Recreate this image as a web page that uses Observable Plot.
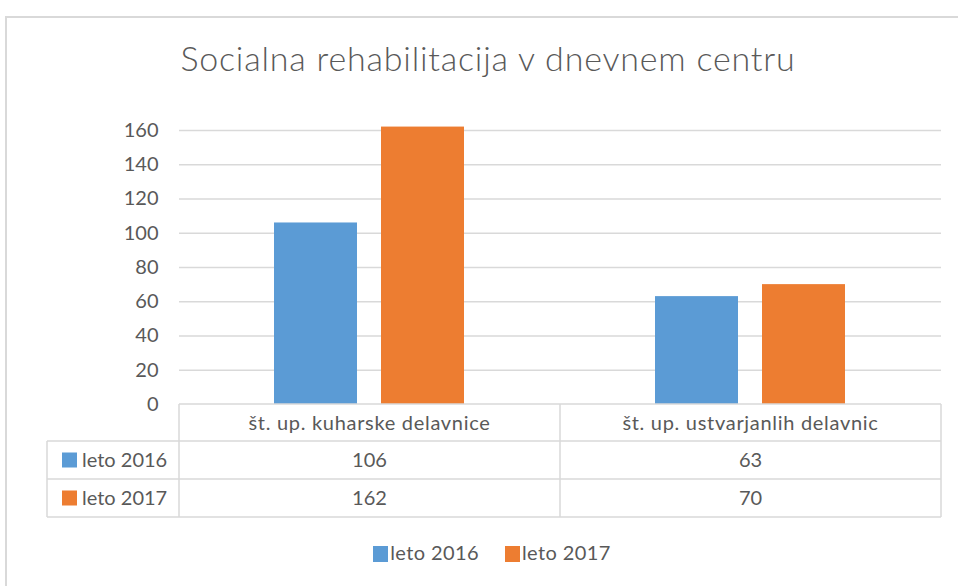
<!DOCTYPE html>
<html><head><meta charset="utf-8">
<script src="https://cdn.jsdelivr.net/npm/d3@7"></script>
<script src="https://cdn.jsdelivr.net/npm/@observablehq/plot@0.6"></script>
<style>
body{margin:0;background:#fff;font-family:Lato,"Open Sans",sans-serif;}
#wrap{position:relative;width:958px;height:586px;overflow:hidden;}
#frame{position:absolute;left:5px;top:16px;width:1000px;height:700px;border-top:2px solid #d9d9d9;border-left:2px solid #d9d9d9;}
#title{position:absolute;left:0;width:976px;top:37px;text-align:center;font-size:34px;letter-spacing:0.8px;color:#595959;font-weight:300;}
#chart{position:absolute;left:0;top:0;}
#legend{position:absolute;top:540px;left:0;width:984px;text-align:center;font-size:20px;letter-spacing:0.4px;color:#595959;line-height:24px;}
#legend span.k{display:inline-block;width:15px;height:16px;vertical-align:-2px;margin-right:2px;}
#legend span.i + span.i{margin-left:26px;}
</style></head>
<body><div id="wrap"><div id="frame"></div><div id="title">Socialna rehabilitacija v dnevnem centru</div><div id="chart"></div>
<div id="legend"></div></div>
<script>
const categories = ["št. up. kuharske delavnice", "št. up. ustvarjanlih delavnic"];
const seriesNames = ["leto 2016", "leto 2017"];
const values2016 = [106, 63];
const values2017 = [162, 70];
const yTicks = [0, 20, 40, 60, 80, 100, 120, 140, 160];
const colors = ["#5B9BD5", "#ED7D31"];
const seriesValues = [values2016, values2017];

const data = [];
categories.forEach((c, i) => {
  seriesNames.forEach((s, j) => data.push({cat: c, series: s, value: seriesValues[j][i]}));
});

const FONT = "Lato, 'Open Sans', sans-serif";
const TXT = "#595959";
const LINE = "#d9d9d9";

const plot = Plot.plot({
  width: 958, height: 586,
  marginLeft: 179, marginRight: 17, marginTop: 130, marginBottom: 182,
  style: {fontFamily: FONT, fontSize: "20px", color: TXT, background: "transparent", overflow: "visible"},
  fx: {domain: categories, axis: null, padding: 0, label: null},
  x: {domain: seriesNames, axis: null, paddingInner: 0.222, paddingOuter: 0.875},
  y: {domain: [0, 160], label: null},
  color: {domain: seriesNames, range: colors},
  marks: [
    Plot.gridY(yTicks.filter(d => d > 0), {stroke: LINE, strokeOpacity: 1, strokeWidth: 1.5}),
    Plot.axisY({ticks: yTicks, tickSize: 0, tickPadding: 21, fill: TXT, fontSize: 20, label: null}),
    Plot.barY(data, {fx: "cat", x: "series", y: "value", fill: "series"}),
  ]
});
document.getElementById("chart").appendChild(plot);

// Data table below the plot, aligned to the fx band scale
const fx = plot.scale("fx");
const bw = fx.bandwidth;
const starts = categories.map(c => fx.apply(c));
const left = starts[0], right = starts[starts.length - 1] + bw;
const svg = d3.select(plot);
const g = svg.append("g").attr("font-family", FONT).attr("fill", TXT).attr("font-size", 20);
const rowY = [404, 441, 479, 517];
const tableLeft = 47;
const line = (x1, y1, x2, y2) => g.append("line").attr("x1", x1).attr("x2", x2).attr("y1", y1).attr("y2", y2).attr("stroke", LINE).attr("stroke-width", 1.5);
line(left, rowY[0], right, rowY[0]);
rowY.slice(1).forEach(y => line(tableLeft, y, right, y));
line(tableLeft, rowY[1], tableLeft, rowY[3]);
[...starts, right].forEach(x => line(x, rowY[0], x, rowY[3]));
// header
categories.forEach((c, i) => g.append("text").attr("x", starts[i] + bw / 2).attr("y", (rowY[0] + rowY[1]) / 2).attr("dy", "0.35em").attr("text-anchor", "middle").attr("letter-spacing", "0.7px").text(c));
// rows
seriesNames.forEach((s, j) => {
  const yc = (rowY[j + 1] + rowY[j + 2]) / 2;
  g.append("rect").attr("x", 62).attr("y", yc - 7.5).attr("width", 15).attr("height", 15).attr("fill", colors[j]);
  g.append("text").attr("x", 82).attr("y", yc).attr("dy", "0.35em").attr("text-anchor", "start").text(s);
  seriesValues[j].forEach((v, i) => g.append("text").attr("x", starts[i] + bw / 2).attr("y", yc).attr("dy", "0.35em").attr("text-anchor", "middle").text(v));
});

// bottom legend
const leg = document.getElementById("legend");
seriesNames.forEach((s, j) => {
  const it = document.createElement("span"); it.className = "i";
  it.innerHTML = `<span class="k" style="background:${colors[j]}"></span>${s}`;
  leg.appendChild(it);
});
</script>
</body></html>
